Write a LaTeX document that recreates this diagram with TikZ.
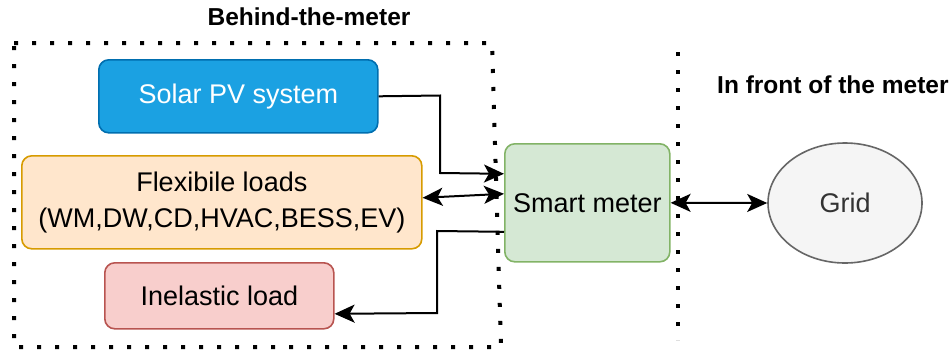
\documentclass[tikz,border=0pt]{standalone}
\usepackage{fontspec}
\setmainfont{Liberation Sans}
\usetikzlibrary{arrows.meta,shapes.geometric}
\definecolor{solarfill}{HTML}{1BA1E2}
\definecolor{solardraw}{HTML}{006EAF}
\definecolor{flexfill}{HTML}{FFE6CC}
\definecolor{flexdraw}{HTML}{D79B00}
\definecolor{inelfill}{HTML}{F8CECC}
\definecolor{ineldraw}{HTML}{B85450}
\definecolor{meterfill}{HTML}{D5E8D4}
\definecolor{meterdraw}{HTML}{82B366}
\definecolor{gridfill}{HTML}{F5F5F5}
\definecolor{griddraw}{HTML}{666666}
\definecolor{gridtext}{HTML}{333333}
\begin{document}
\begin{tikzpicture}[x=1pt,y=-1pt,
  box/.style={draw, rounded corners=10pt, line width=1.6pt, align=center, inner sep=0pt,
    font=\fontsize{27}{36}\selectfont, anchor=north west},
  conn/.style={line width=2pt, -{Stealth[length=20pt,width=18pt,inset=5pt]}},
  conntwo/.style={line width=2pt, {Stealth[length=20pt,width=18pt,inset=5pt]}-{Stealth[length=20pt,width=18pt,inset=5pt]}},
  dotline/.style={line width=4pt, dash pattern=on 4pt off 14pt},
  titletext/.style={font=\bfseries\fontsize{24.5}{30}\selectfont, inner sep=0pt}
]
\useasboundingbox (0,0) rectangle (952,354);
% region borders
\draw[dotline] (14,43) -- (492,43) -- (501,347) -- (14,347) -- cycle;
\draw[dotline] (678,52) -- (678,340);
% titles
\node[titletext] (t1) at (309,17) {Behind-the-meter};
\node[titletext, anchor=west] (t2) at (717,85) {In front of the meter};
% boxes
\node[box, fill=solarfill, draw=solardraw, text=white, minimum width=279pt, minimum height=73pt] (solar) at (98,59) {Solar PV system};
\node[box, fill=flexfill, draw=flexdraw, minimum width=400pt, minimum height=93pt] (flex) at (21,155) {Flexibile loads\\(WM,DW,CD,HVAC,BESS,EV)};
\node[box, fill=inelfill, draw=ineldraw, minimum width=229pt, minimum height=66pt] (inel) at (104,262) {Inelastic load};
\node[box, fill=meterfill, draw=meterdraw, minimum width=165pt, minimum height=118pt] (meter) at (504,143) {Smart meter};
\node[ellipse, draw=griddraw, fill=gridfill, text=gridtext, line width=1.6pt, inner sep=0pt,
  minimum width=154pt, minimum height=120pt, font=\fontsize{27}{36}\selectfont] (grid) at (845,203) {Grid};
% connectors
\draw[conn] (solar.east) -- (440,95.5) -- (440,173) -- ([yshift=29pt]meter.west);
\draw[conntwo] ([yshift=4.5pt]flex.east) -- ([yshift=9pt]meter.west);
\draw[conn] ([yshift=-29pt]meter.west) -- (437,231) -- (437,313) -- ([yshift=-18pt]inel.east);
\draw[conntwo] (meter.east) -- (grid.west);
\end{tikzpicture}
\end{document}
